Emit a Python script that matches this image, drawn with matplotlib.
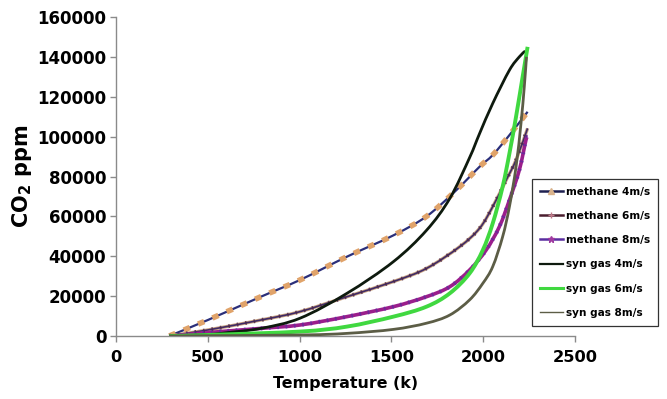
import matplotlib
matplotlib.use("Agg")
import matplotlib.pyplot as plt
import numpy as np
from matplotlib.lines import Line2D
from matplotlib.path import Path
from matplotlib.patches import PathPatch

plt.rcParams['font.family'] = ['DejaVu Sans']

# Data (Temperature K, CO2 ppm)
m4_T = [290, 500, 789, 1002, 1258, 1511, 1691, 1845, 1980, 2052, 2143, 2242]
m4_y = [0, 8000, 19700, 28100, 39800, 50500, 60000, 72400, 84900, 90800, 100800, 112500]

m6_T = [290, 500, 789, 1002, 1258, 1511, 1691, 1872, 1980, 2052, 2125, 2179, 2242]
m6_y = [0, 3000, 8000, 12200, 19700, 27300, 33900, 44800, 54000, 64900, 78200, 88300, 104200]

m8_T = [290, 500, 789, 1002, 1258, 1511, 1691, 1818, 1926, 2016, 2088, 2143, 2197, 2233, 2242]
m8_y = [0, 1700, 3800, 5500, 9700, 14700, 19700, 24700, 33100, 43100, 54800, 68200, 83300, 98300, 100000]

s4_T = [290, 500, 608, 789, 1002, 1258, 1511, 1691, 1818, 1926, 1980, 2052, 2143, 2197, 2229]
s4_y = [0, 700, 1700, 3800, 8900, 21400, 37300, 53000, 69000, 89500, 101500, 116700, 133400, 140100, 143000]

s6_T = [290, 500, 1002, 1258, 1511, 1691, 1818, 1926, 1998, 2052, 2106, 2143, 2179, 2215, 2242]
s6_y = [0, 500, 2200, 4700, 9700, 14700, 21400, 31400, 43100, 56500, 74900, 91600, 110000, 130100, 145100]

s8_T = [290, 1002, 1258, 1511, 1691, 1818, 1926, 1998, 2052, 2106, 2143, 2179, 2206, 2224, 2236]
s8_y = [0, 500, 1300, 3300, 6400, 10500, 18100, 26400, 34800, 49800, 64900, 84900, 106700, 125100, 140100]

labels = ["methane 4m/s", "methane 6m/s", "methane 8m/s",
          "syn gas 4m/s", "syn gas 6m/s", "syn gas 8m/s"]

xticks = [0, 500, 1000, 1500, 2000, 2500]
yticks = [0, 20000, 40000, 60000, 80000, 100000, 120000, 140000, 160000]


def smooth_path(xs, ys):
    """Bezier path through the data points (like a spreadsheet 'smoothed line')."""
    pts = np.column_stack([xs, ys]).astype(float)
    n = len(pts)
    verts = [pts[0]]
    codes = [Path.MOVETO]
    for i in range(n - 1):
        p0 = pts[i - 1] if i > 0 else pts[i]
        p1 = pts[i]
        p2 = pts[i + 1]
        p3 = pts[i + 2] if i + 2 < n else pts[i + 1]
        c1 = p1 + (p2 - p0) / 6.0
        c2 = p2 - (p3 - p1) / 6.0
        verts += [c1, c2, p2]
        codes += [Path.CURVE4] * 3
    return Path(verts, codes)


def draw(ax, xs, ys, color, lw, dashes=None, alpha=1.0, z=3):
    ls = '-' if dashes is None else (0, dashes)
    patch = PathPatch(smooth_path(xs, ys), facecolor='none', edgecolor=color,
                      lw=lw, linestyle=ls, alpha=alpha, zorder=z,
                      capstyle='butt', joinstyle='round')
    ax.add_patch(patch)


fig = plt.figure(figsize=(6.67, 3.99), dpi=100)
ax = fig.add_axes([0.174, 0.158, 0.688, 0.799])

draw(ax, m4_T, m4_y, '#2B2F7A', 1.6, z=3)
draw(ax, m4_T, m4_y, '#E0A36A', 4.0, dashes=(1.2, 1.6), z=4)

draw(ax, m6_T, m6_y, '#C9A27E', 2.4, z=3)
draw(ax, m6_T, m6_y, '#3E2A66', 1.2, z=3)
draw(ax, m6_T, m6_y, '#4A2448', 2.8, dashes=(0.4, 1.8), alpha=0.8, z=4)

draw(ax, m8_T, m8_y, '#9A1E8C', 2.6, z=3)
draw(ax, m8_T, m8_y, '#5A2DA0', 3.0, dashes=(0.4, 1.6), alpha=0.7, z=4)

draw(ax, s4_T, s4_y, '#0E1A0E', 2.0, z=5)
draw(ax, s6_T, s6_y, '#40D840', 2.8, z=5)
draw(ax, s8_T, s8_y, '#5C5D46', 2.0, z=5)

ax.set_xlim(0, 2500)
ax.set_ylim(0, 160000)
ax.set_xticks(xticks)
ax.set_yticks(yticks)
ax.set_xticklabels([str(v) for v in xticks], fontsize=11.7, fontweight='bold')
ax.set_yticklabels([str(v) for v in yticks], fontsize=12, fontweight='bold')
for s in ['top', 'right']:
    ax.spines[s].set_visible(False)
for s in ['left', 'bottom']:
    ax.spines[s].set_color('#8A8A8A')
    ax.spines[s].set_linewidth(1.0)
ax.tick_params(axis='both', direction='out', length=4, color='#8A8A8A', width=1.0, pad=3)
ax.tick_params(axis='x', pad=6)

ax.set_xlabel("Temperature (k)", fontsize=11.4, fontweight='bold', labelpad=8)
ax.set_ylabel("CO$_\\mathbf{2}$ ppm", fontsize=15, fontweight='bold', labelpad=2)

handles = [
    Line2D([], [], color='#1E2050', lw=1.8, marker='^', markersize=4,
           markerfacecolor='#D9B38C', markeredgecolor='#D9B38C'),
    Line2D([], [], color='#4A1E2E', lw=1.8, marker='+', markersize=5,
           markeredgecolor='#C07A8A'),
    Line2D([], [], color='#5A2DA0', lw=1.8, marker='*', markersize=5,
           markerfacecolor='#A03AA0', markeredgecolor='#A03AA0'),
    Line2D([], [], color='#0E1A0E', lw=1.6),
    Line2D([], [], color='#40D840', lw=2.2),
    Line2D([], [], color='#5C5D46', lw=1.0),
]
leg = fig.legend(handles, labels, loc='upper left', bbox_to_anchor=(0.797, 0.552),
                 frameon=True, fancybox=False, edgecolor='black',
                 prop={'weight': 'bold', 'size': 7.6}, handlelength=2.2,
                 handletextpad=0.3, labelspacing=1.35, borderpad=0.75, borderaxespad=0)
leg.get_frame().set_linewidth(0.9)

fig.savefig("out.png", dpi=100)
